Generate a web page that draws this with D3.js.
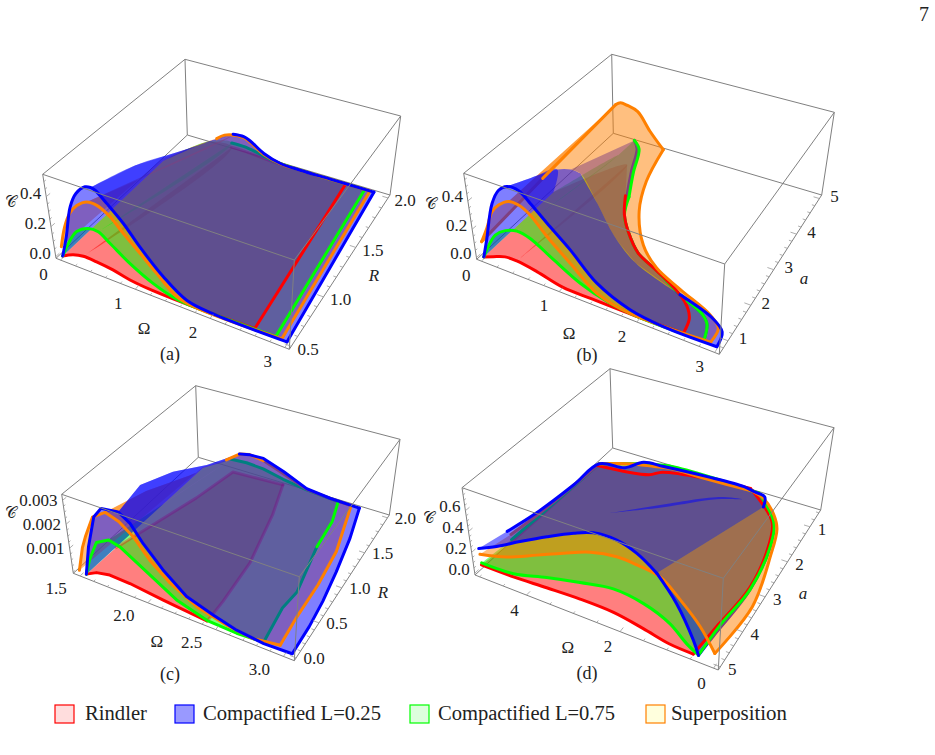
<!DOCTYPE html>
<html><head><meta charset="utf-8">
<script src="https://cdn.jsdelivr.net/npm/d3@7"></script>
<style>
html,body{margin:0;background:#fff}
text{font-family:"Liberation Serif",serif;fill:#222}
</style></head><body><svg id="fig" width="935" height="755"></svg>
<script>
// Series names and legend entries
const seriesNames = ["Rindler","Compactified L=0.25","Compactified L=0.75","Superposition"];

// ---- Panel (a): concurrence over Omega and R ----
const omegaTicksA=[0,1,2,3], yTicksA=[0.5,1,1.5,2], cTicksA=[0,0.2,0.4];
const redFrontA=[[0,0],[.15,.037],[.29,.054],[.465,.05],[.68,.038],[.91,.014],[1.2,.002],[1.8,0],[2.57,.012]];
const redEdgeA=[[2.41,2,0]];
const redRimA=[[1.7,2,0],[1.3,2,.003],[1.05,2,.012],[.85,2,.018],[.66,2,.018]];
const redFoldA=[[.66,2,.018],[.3,2,.005],[0,1.7,0]];
const greenFrontA=[[0,0],[.1,.1],[.243,.209],[.405,.26],[.535,.262],[.676,.213],[.92,.126],[1.22,.05],[1.53,.005],[1.83,0],[2.85,.012]];
const greenEdgeA=[[2.7,2,0]];
const greenRimA=[[1.7,2,0],[1.3,2,.01],[1.05,2,.035],[.85,2,.05],[.66,2,.05]];
const greenFoldA=[[.66,2,.05],[.3,2,.01],[0,1.7,0]];
const orangeFrontA=[[0,.062],[.087,.211],[.18,.317],[.29,.39],[.43,.44],[.555,.44],[.71,.395],[.87,.312],[1.07,.218],[1.27,.128],[1.53,.023],[1.79,0],[2.93,.012]];
const orangeEdgeA=[[2.78,2,0]];
const orangeRimA=[[1.71,2,0],[1.4,2,.005],[1.15,2,.035],[.94,2,.095],[.84,2,.115],[.68,2,.112]];
const orangeFoldA=[[.68,2,.112],[.55,2,.092],[.43,2,.05],[.3,2,.012],[0,1.7,.02]];
const orangeLeftTopA=[[.68,2,.112],[.55,2,.092],[.43,2,.05]];
const blueFrontA=[[0,0],[.09,.146],[.2,.365],[.3,.472],[.43,.54],[.5,.548],[.555,.54],[.69,.476],[.88,.38],[1.07,.263],[1.36,.121],[1.66,.025],[2,.003],[3,.006]];
const blueEdgeA=[[2.84,2,0]];
const blueRimA=[[2.17,2,0],[1.71,2,0],[1.4,2,.007],[1.15,2,.043],[.94,2,.104],[.84,2,.122],[.68,2,.117]];
const blueCrestA=[[.5,1.5,.258],[.44,1.05,.4]];
const blueFoldA=[[.44,1.05,.4],[.5,1.5,.258],[.68,2,.117],[.558,2,.089],[.43,2,.047],[.3,2,.01],[0,1.7,0]];

// ---- Panel (b): concurrence over Omega and a ----
const omegaTicksB=[0,1,2,3], yTicksB=[1,2,3,4,5], cTicksB=[0,0.2,0.4];
const redFrontB=[[0,0],[.13,.029],[.287,.061],[.437,.064],[.69,.043],[1.02,.002],[1.4,0],[2,0],[2.57,.009]];
const redEdgeTopB=[[2.52,1.11,0],[2.43,1.34,0],[2.24,1.6,0],[1.81,1.96,0],[1.46,2.23,0],[1.18,2.64,0],[.97,3.04,0],[.79,3.53,0]];
const redCrestB=[[.48,4.34,0]];
const redFoldB=[[.48,4.34,0],[0,3,0]];
const greenFrontB=[[0,0],[.084,.095],[.194,.194],[.333,.255],[.483,.283],[.645,.265],[.92,.176],[1.25,.079],[1.59,.023],[1.97,0],[2.83,.009]];
const greenEdgeB=[[2.74,1.15,0],[2.62,1.34,0],[2.36,1.52,0],[2.24,1.6,0],[1.81,1.96,0],[1.46,2.23,0],[1.18,2.64,0],[.97,3.04,0],[.84,3.53,0]];
const greenEdgeTopB=[[.63,4.2,0],[.44,4.84,0],[.3,5,.01]];
const greenAccentB=[[2.83,.71,.009],[2.74,1.15,0],[2.62,1.34,0],[2.36,1.52,0]];
const greenCrestB=[[.31,4.43,.024]];
const greenFoldB=[[.31,4.43,.024],[0,3,0]];
const orangeFrontB=[[0,.108],[.096,.225],[.19,.358],[.286,.425],[.417,.477],[.54,.477],[.675,.434],[.86,.325],[1.135,.194],[1.46,.053],[1.88,.003],[2.92,.02]];
const orangeEdgeTopB=[[2.885,1.16,0],[2.71,1.39,0],[2.21,1.72,0],[1.78,2.03,0],[1.45,2.46,0],[1.09,3.26,0],[.87,4.07,0],[.73,5,.005]];
const orangeRimTopB=[[.53,5,.115],[.35,5,.237],[.2,5,.262],[.1,5,.267],[.03,5,.243]];
const orangeFoldB=[[.03,5,.243]];
const orangeLeftTopB=[[.03,5,.243],[.014,2.68,.17]];
const orangeLeftB=[[.014,2.68,.17],[0,.71,.108]];
const blueFrontB=[[0,0],[.07,.134],[.205,.419],[.31,.534],[.42,.583],[.56,.582],[.69,.519],[.876,.42],[1.147,.289],[1.465,.124],[1.884,.028],[2.31,0],[3,.005]];
const blueEdgeTopB=[[2.95,1.11,0],[2.75,1.34,0],[2.24,1.6,0]];
const blueSeamB=[[1.53,1.96,0],[1.16,2.19,.069],[.67,2.86,.07],[.16,3.53,.055]];
const blueCrestB=[[.127,3.31,.125],[.143,2.86,.222],[.283,1.74,.413]];
const blueFoldB=[[.283,1.74,.413],[.143,2.86,.222],[0,3,0]];
const blueUnderEdgeB=[[1.81,1.96,0],[1.46,2.23,0],[1.18,2.64,0],[.97,3.04,0],[.81,3.53,0],[.6,4.2,0],[.41,4.84,0],[.3,5,.01]];
const blueUnderCrestB=[[.127,3.31,.125]];

// ---- Panel (c): concurrence over Omega and R, high-frequency window ----
const omegaTicksC=[1.5,2,2.5,3], yTicksC=[0,.5,1,1.5,2], cTicksC=[.001,.002,.003];
const redFrontC=[[1.53,0],[1.61,.00024],[1.71,.00036],[1.857,.00033],[2.1,.00018],[2.42,.00002]];
const redEdgeC=[[2.44,0,.00017],[2.42,.31,0],[2.395,.9,0],[2.29,1.58,0],[2.19,2,0]];
const redRimC=[[1.78,1.97,0],[1.71,1.48,0],[1.54,.48,0]];
const greenFrontC=[[1.53,0],[1.57,.0007],[1.637,.00155],[1.73,.00185],[1.81,.00173],[1.99,.0011],[2.2,.0004],[2.42,.00005],[2.64,0],[2.84,.00007]];
const greenEdgeC=[[2.8,.5,0],[2.82,.75,0],[2.74,1.37,0]];
const greenEdgeTopC=[[2.72,1.73,0],[2.66,2,0]];
const greenRimC=[[2.39,2,.0001],[2.19,2,.00025],[2.02,2,.00045],[1.88,2,.0005],[1.75,2,.00045]];
const greenFoldC=[[1.75,2,.00045],[1.56,1.9,0]];
const orangeFrontC=[[1.48,.00005],[1.527,.0011],[1.56,.00162],[1.63,.00259],[1.725,.00299],[1.817,.0028],[1.91,.00238],[2.02,.00163],[2.157,.001],[2.35,.00044],[2.57,.00016],[2.76,.00004],[2.96,.0002]];
const orangeEdgeTopC=[[2.925,.46,0],[2.92,.92,0],[2.89,1.39,0],[2.77,2,0]];
const orangeRimC=[[2.59,2,.00003],[2.39,2,.00012],[2.19,2,.0005],[2.02,2,.00082]];
const orangeRimTopC=[[1.9,2,.00091],[1.82,2,.0008],[1.71,2,.00036]];
const orangeCrestC=[[1.6,1.6,.0005],[1.55,1,.0012]];
const orangeFoldC=[[1.55,1,.0012],[1.6,1.6,.0005],[1.71,2,.00036],[1.56,1.9,.00005]];
const blueFrontC=[[1.53,0],[1.574,.00124],[1.64,.00262],[1.7,.0031],[1.82,.0032],[1.897,.00289],[1.98,.00223],[2.11,.00144],[2.275,.0007],[2.47,.00036],[2.64,.00012],[2.84,.00001],[3.05,.00005]];
const blueEdgeTopC=[[3.04,.4,0],[3.02,.75,0],[2.98,1.15,0],[2.92,1.6,0],[2.84,2,0]];
const blueRimTopC=[[2.59,2,.00004],[2.39,2,.00015],[2.19,2,.0006],[2.02,2,.00092],[1.906,2,.0009],[1.82,2,.0008]];
const blueCrestC=[[1.63,1.83,.00043],[1.507,1.52,.0007],[1.507,1,.00139]];
const blueFoldC=[[1.507,1,.00139],[1.507,1.52,.0007],[1.63,1.83,.00043],[1.82,2,.0008],[1.743,2,.0004],[1.56,1.9,0]];

// ---- Panel (d): concurrence over Omega and a, reversed axes ----
const omegaTicksD=[4,2,0], yTicksD=[5,4,3,2,1], cTicksD=[0,.2,.4,.6];
const redFrontD=[[4.99,.075],[4.31,.078],[3.6,.096],[2.89,.11],[2.18,.105],[1.55,.06],[1,.012],[.48,.004]];
const redEdgeTopD=[[.4,4.1,0],[.28,2.95,0],[.46,1.8,0],[.72,1.2,0],[1.56,.7,.06]];
const redRimTopD=[[2.55,.84,.085],[3.54,.98,.068],[3.72,1.2,.085],[5,1.16,0]];
const redCrestD=[[5,3,.02],[5,4,.03]];
const greenFrontD=[[4.98,.096],[4.3,.11],[3.58,.197],[2.87,.269],[2.17,.327],[1.54,.294],[.99,.2],[.63,.075],[.37,.012]];
const greenEdgeTopD=[[.36,4.08,0],[.25,2.99,0],[.42,1.8,0],[.68,1.2,0],[1.4,.6,0]];
const greenRimTopD=[[2.6,.7,.055],[3.6,.7,.04],[4.2,.85,.03],[5,1.1,0]];
const greenCrestD=[[5,3,.03],[5,4,.05]];
const orangeFrontD=[[4.99,.177],[4.41,.25],[3.75,.38],[3.18,.493],[2.62,.595],[2.08,.641],[1.67,.632],[1.2,.596],[.78,.451],[.36,.277],[.03,.084]];
const orangeEdgeTopD=[[0,3.38,0],[.29,2.03,0],[.52,1.34,0],[.78,1.02,0],[1.22,.7,0],[1.56,.6,0]];
const orangeRimTopD=[[2.6,.75,.045],[3.5,.75,.04],[3.9,.75,.01],[4.4,.9,.02],[5,1.1,0]];
const orangeCrestD=[[5,3.1,.055],[5,4,.1]];
const blueFrontD=[[5,.23],[4.6,.319],[4.08,.453],[3.5,.596],[2.94,.722],[2.54,.79],[2.07,.798],[1.67,.739],[1.27,.62]];
const blueLowerFrontD=[[1.27,.62],[.86,.407],[.49,.13],[.37,.01]];
const blueSeamD=[[1.1,.91,0]];
const blueRimTopD=[[1.2,.7,.02],[1.46,.7,.04],[1.72,.7,.06],[2.63,.7,.05],[3.7,.7,.02],[4.2,.7,0],[4.39,1.07,.03],[5,1.1,0],[5,1.94,.025],[5,3.17,.084],[5,4.1,.157]];
const blueUnderEdgeD=[[.35,4.4,0],[.25,3,0],[.42,1.8,0],[.68,1.2,0]];
const blueCreaseD=[[3.9,2.3,0],[3,1.75,.02],[2.1,1.15,.03],[1.6,.95,.03],[2.1,1.08,.03],[3,1.65,.02]];

// ---- Box geometry and label layout of each panel ----
const panels=[
 {name:"(a)",namePos:[170,354],xDom:[-.06,3.06],yDom:[.47,2.03],cDom:[-.011,.549],frontY:.5,
  corners:{LB:[56,258.3],NB:[289.3,349.3],BB:[187.3,135],RB:[390,195],LT:[42.7,174.3],NT:[294.3,260],BT:[185,59.3],RT:[400.7,116]},
  xTicks:omegaTicksA,yTicks:yTicksA,cTicks:cTicksA,xFmt:"d",yFmt:".1f",cFmt:".1f",xMinor:.2,yMinor:.1,cMinor:.05,
  xOff:[-17,14],yOff:[17,3],cOff:[-5,-3.5],xTitle:["Ω",144,328],yTitle:["R",374,275],cTitle:[11,201],curve:d3.curveCatmullRom,
  series:{
   red:{front:redFrontA,edgeTop:redEdgeA,rim:redRimA,fold:redFoldA},
   green:{front:greenFrontA,edgeTop:greenEdgeA,rim:greenRimA,fold:greenFoldA},
   orange:{front:orangeFrontA,edgeTop:orangeEdgeA,rimTop:orangeRimA,fold:orangeFoldA,leftTop:orangeLeftTopA},
   blue:{front:blueFrontA,edgeTop:blueEdgeA,rimTop:blueRimA,crest:blueCrestA,fold:blueFoldA}}},
 {name:"(b)",namePos:[587,355],xDom:[-.06,3.06],yDom:[.62,5.1],cDom:[-.012,.595],frontY:.71,
  corners:{LB:[476.7,259.3],NB:[719.3,354.3],BB:[613.3,133.3],RB:[821.7,195],LT:[463.7,173.3],NT:[724.7,264],BT:[611.7,54.3],RT:[834.3,112.3]},
  xTicks:omegaTicksB,yTicks:yTicksB,cTicks:cTicksB,xFmt:"d",yFmt:"d",cFmt:".1f",xMinor:.2,yMinor:.2,cMinor:.05,
  xOff:[-15,14],yOff:[15,-2],cOff:[-5,-4],xTitle:["Ω",569,333],yTitle:["a",804,278],cTitle:[431,203],curve:d3.curveCatmullRom,
  series:{
   red:{front:redFrontB,edgeTop:redEdgeTopB,crest:redCrestB,fold:redFoldB},
   green:{front:greenFrontB,edge:greenEdgeB,edgeTop:greenEdgeTopB,crest:greenCrestB,fold:greenFoldB,accent:greenAccentB},
   orange:{front:orangeFrontB,edgeTop:orangeEdgeTopB,rimTop:orangeRimTopB,fold:orangeFoldB,leftTop:orangeLeftTopB,left:orangeLeftB},
   blue:{front:blueFrontB,edgeTop:blueEdgeTopB,seam:blueSeamB,crest:blueCrestB,fold:blueFoldB,underEdge:blueUnderEdgeB,underCrest:blueUnderCrestB}}},
 {name:"(c)",namePos:[170,674],xDom:[1.45,3.08],yDom:[-.04,2.04],cDom:[-.00005,.00325],frontY:0,
  corners:{LB:[73.3,573.3],NB:[294.3,660.7],BB:[198.3,457.3],RB:[389.3,515],LT:[61.7,494.3],NT:[299.3,576.7],BT:[195.7,385.7],RT:[400,439.3]},
  xTicks:omegaTicksC,yTicks:yTicksC,cTicks:cTicksC,xFmt:".1f",yFmt:".1f",cFmt:".3f",xMinor:.1,yMinor:.1,cMinor:.00025,
  xOff:[-24,13],yOff:[18,1],cOff:[-5,0],xTitle:["Ω",156.7,641],yTitle:["R",383,592],cTitle:[11,512],curve:d3.curveLinear,
  series:{
   red:{front:redFrontC,peak:0,edge:redEdgeC,rim:redRimC},
   green:{front:greenFrontC,edge:greenEdgeC,edgeTop:greenEdgeTopC,rim:greenRimC,fold:greenFoldC},
   orange:{front:orangeFrontC,edgeTop:orangeEdgeTopC,rim:orangeRimC,rimTop:orangeRimTopC,crest:orangeCrestC,fold:orangeFoldC},
   blue:{front:blueFrontC,edgeTop:blueEdgeTopC,rimTop:blueRimTopC,crest:blueCrestC,fold:blueFoldC}}},
 {name:"(d)",namePos:[587,673],xDom:[5.1,-.1],yDom:[5.09,.52],cDom:[-.017,.82],frontY:5,
  corners:{LB:[475,575],NB:[718.3,670],BB:[612.7,448],RB:[820.7,510],LT:[462,487.7],NT:[723.3,578.3],BT:[610,368.7],RT:[834,427.7]},
  xTicks:omegaTicksD,yTicks:yTicksD,cTicks:cTicksD,xFmt:"d",yFmt:"d",cFmt:".1f",xMinor:.5,yMinor:.2,cMinor:.05,
  xOff:[-12,15],yOff:[12,3],cOff:[-5,-4],xTitle:["Ω",567.7,647],yTitle:["a",803,593],cTitle:[429,517],curve:d3.curveCatmullRom,
  series:{
   red:{front:redFrontD,peak:0,edgeTop:redEdgeTopD,rimTop:redRimTopD,crest:redCrestD,crestLine:true},
   green:{front:greenFrontD,peak:0,edgeTop:greenEdgeTopD,rimTop:greenRimTopD,crest:greenCrestD,crestLine:true},
   orange:{front:orangeFrontD,peak:0,edgeTop:orangeEdgeTopD,rimTop:orangeRimTopD,crest:orangeCrestD,crestLine:true},
   blue:{front:blueFrontD,peak:0,seam:blueSeamD,rimTop:blueRimTopD,lowerFront:blueLowerFrontD,underEdge:blueUnderEdgeD,extra:blueCreaseD}}}
];

const colors={red:"#ff0000",green:"#00ff00",blue:"#0000ff",orange:"#ff8000"};
const svg=d3.select("#fig");
const fillOpacity=.5, strokeW=3, tickFont=17;

// Trilinear map from data coordinates to the drawn box
function makeProjector(p){
  const sx=d3.scaleLinear().domain(p.xDom).range([0,1]);
  const sy=d3.scaleLinear().domain(p.yDom).range([0,1]);
  const sc=d3.scaleLinear().domain(p.cDom).range([0,1]);
  const k=p.corners;
  const mix=(a,b,f)=>[a[0]+(b[0]-a[0])*f,a[1]+(b[1]-a[1])*f];
  return ([x,y,c])=>{
    const t=sx(x),u=sy(y),w=sc(c);
    const low=mix(mix(k.LB,k.NB,t),mix(k.BB,k.RB,t),u);
    const high=mix(mix(k.LT,k.NT,t),mix(k.BT,k.RT,t),u);
    return mix(low,high,w);
  };
}

function drawPanel(p){
  const g=svg.append("g");
  const proj=makeProjector(p);
  const k=p.corners;
  const line=d3.line().curve(p.curve).x(d=>proj(d)[0]).y(d=>proj(d)[1]);
  const lift=f=>f.map(([o,c])=>[o,p.frontY,c]);
  // Chains consecutive point runs into one closed outline
  const outline=runs=>{
    let last=null,path="";
    runs.forEach(r=>{
      if(!r||!r.length)return;
      const pts=last?[last,...r]:r;
      const d=line(pts);
      path+=last?d.replace(/^M/,"L"):d;
      last=r[r.length-1];
    });
    return path+"Z";
  };
  const edgeLine=(a,b)=>g.append("path").attr("d",d3.line()([a,b])).attr("stroke","#808080").attr("stroke-width",1).attr("fill","none");

  // Rear box edges sit behind every sheet
  [["BT","BB"],["BB","LB"],["BB","RB"],["LT","BT"],["BT","RT"]].forEach(([a,b])=>edgeLine(k[a],k[b]));

  const top=[],mid=[];
  const stroke=(pts,col,target,op)=>{
    if(!pts||pts.length<2)return;
    const s=()=>g.append("path").attr("d",line(pts)).attr("fill","none").attr("stroke",col)
      .attr("stroke-width",strokeW).attr("stroke-linejoin","round").attr("stroke-linecap","round")
      .attr("stroke-opacity",op===undefined?1:op);
    if(target==="top")top.push(s);else if(target==="mid")mid.push(s);else s();
  };
  const fill=(d,col)=>g.append("path").attr("d",d).attr("fill",col).attr("fill-opacity",fillOpacity).attr("stroke","none");

  const peakIndex=(s,fr)=>s.peak!==undefined?s.peak:d3.range(fr.length).reduce((b,i)=>fr[i][2]>fr[b][2]?i:b,0);

  // The part of a sheet lying below the orange surface
  const drawUnder=(s,col)=>{
    const fr=lift(s.front);
    const lf=s.lowerFront?lift(s.lowerFront):null;
    const seam=s.seam;
    const start=lf?lf[lf.length-1]:s.edgeTop[s.edgeTop.length-1];
    const seamBack=[...seam].reverse();
    const d=outline(lf?[lf,s.underEdge,seam.slice(-1),seamBack.slice(1),[fr[fr.length-1]]]
                      :[[start],s.underEdge,s.underCrest,seamBack,[start]]);
    fill(d,col);
    stroke([start,...s.underEdge],col,"now");
  };

  const drawSheet=(key)=>{
    const s=p.series[key],col=colors[key];
    const fr=lift(s.front),pk=peakIndex(s,fr);
    if(s.fold&&pk>0) fill(outline([fr.slice(0,pk+1),s.fold]),col);
    fill(outline([fr.slice(pk),s.edge,s.edgeTop,s.seam,s.rim,s.rimTop,s.crest]),col);
    if(s.extra) fill(outline([s.extra]),col);
    // Outline runs each start where the previous one stopped; hidden red runs stay faint
    const layer=key==="blue"?"now":"mid";
    const hidden=key==="red"?.35:1;
    let last=fr[fr.length-1];
    [[s.edge,layer,hidden],[s.edgeTop,"top",1]].forEach(([r,t,o])=>{if(r&&r.length){stroke([last,...r],col,t,o);last=r[r.length-1];}});
    if(s.seam) last=s.seam[s.seam.length-1];
    [[s.rim,layer,hidden],[s.rimTop,"top",1]].forEach(([r,t,o])=>{if(r&&r.length){stroke([last,...r],col,t,o);last=r[r.length-1];}});
    if(s.crestLine) stroke([last,...s.crest],col,layer,hidden);
    stroke(s.left,col,"mid");
    stroke(s.leftTop,col,"top");
    stroke(s.accent,col,"top");
  };

  drawSheet("red");
  drawSheet("green");
  if(p.series.blue.underEdge) drawUnder(p.series.blue,colors.blue);
  drawSheet("orange");
  mid.forEach(f=>f());
  drawSheet("blue");
  top.forEach(f=>f());
  ["red","green","orange","blue"].forEach(key=>{
    const s=p.series[key];
    stroke(lift(s.front),colors[key],"now");
    if(s.lowerFront) stroke(lift(s.lowerFront),colors[key],"now");
  });

  // Front box edges lie over the sheets
  [["LT","NT"],["NT","RT"],["NT","NB"],["LB","NB"],["NB","RB"],["LT","LB"],["RT","RB"]].forEach(([a,b])=>edgeLine(k[a],k[b]));

  // Axis ticks and labels
  const [xMin,xMax]=d3.extent(p.xDom),[yMin,yMax]=d3.extent(p.yDom),[cMin,cMax]=d3.extent(p.cDom);
  const yEdgeX=p.xDom[1],xEdgeY=p.yDom[0];
  const tick=(a,b)=>g.append("path").attr("d",d3.line()([proj(a),proj(b)])).attr("stroke","#999").attr("stroke-width",.8);
  const minorList=(lo,hi,step)=>d3.range(Math.ceil(lo/step-1e-9),Math.floor(hi/step+1e-9)+1).map(i=>i*step);
  const dy=(p.yDom[1]-p.yDom[0]),dx=(p.xDom[1]-p.xDom[0]);
  const label=(pt,off,txt,anchor)=>g.append("text").attr("x",pt[0]+off[0]).attr("y",pt[1]+off[1])
     .attr("text-anchor",anchor).attr("dominant-baseline","central").attr("font-size",tickFont).text(txt);
  const isMajor=(v,list)=>list.some(m=>Math.abs(m-v)<1e-9);
  minorList(xMin,xMax,p.xMinor).forEach(v=>{const f=isMajor(v,p.xTicks)?.028:.014;tick([v,xEdgeY,p.cDom[0]],[v,xEdgeY+dy*f,p.cDom[0]]);});
  minorList(yMin,yMax,p.yMinor).forEach(v=>{const f=isMajor(v,p.yTicks)?.028:.014;tick([yEdgeX,v,p.cDom[0]],[yEdgeX-dx*f,v,p.cDom[0]]);});
  minorList(cMin,cMax,p.cMinor).forEach(v=>{const f=isMajor(v,p.cTicks)?.028:.014;tick([p.xDom[0],xEdgeY,v],[p.xDom[0],xEdgeY+dy*f,v]);});
  const fx=d3.format(p.xFmt),fy=d3.format(p.yFmt),fc=d3.format(p.cFmt);
  p.xTicks.forEach(v=>label(proj([v,xEdgeY,p.cDom[0]]),p.xOff,fx(v),"middle"));
  p.yTicks.forEach(v=>label(proj([yEdgeX,v,p.cDom[0]]),p.yOff,fy(v),"middle"));
  p.cTicks.forEach(v=>label(proj([p.xDom[0],xEdgeY,v]),p.cOff,fc(v),"end"));
  g.append("text").attr("x",p.xTitle[1]).attr("y",p.xTitle[2]).attr("text-anchor","middle").attr("dominant-baseline","central").attr("font-size",tickFont).text(p.xTitle[0]);
  g.append("text").attr("x",p.yTitle[1]).attr("y",p.yTitle[2]).attr("text-anchor","middle").attr("dominant-baseline","central").attr("font-size",tickFont).attr("font-style","italic").text(p.yTitle[0]);
  g.append("text").attr("x",p.cTitle[0]).attr("y",p.cTitle[1]).attr("text-anchor","middle").attr("dominant-baseline","central").attr("font-size",16).attr("font-family","'DejaVu Sans'").text("𝒞");
  g.append("text").attr("x",p.namePos[0]).attr("y",p.namePos[1]).attr("text-anchor","middle").attr("dominant-baseline","central").attr("font-size",18).text(p.name);
}
panels.forEach(drawPanel);

// Legend row
const legendFill=["#ffdddd","#9999ff","#ddffdd","#ffffdd"];
const legendStroke=[colors.red,colors.blue,colors.green,colors.orange];
const legendSwatchX=[55,175,410,646];
const legendTextX=[85,203,438,671];
const legendTextW=[62,178,177,116];
seriesNames.forEach((n,i)=>{
  svg.append("rect").attr("x",legendSwatchX[i]).attr("y",705).attr("width",19).attr("height",18)
     .attr("fill",legendFill[i]).attr("stroke",legendStroke[i]).attr("stroke-width",1.2);
  svg.append("text").attr("x",legendTextX[i]).attr("y",720).attr("font-size",20)
     .attr("textLength",legendTextW[i]).attr("lengthAdjust","spacingAndGlyphs").text(n);
});

// Page number
svg.append("text").attr("x",924).attr("y",21).attr("text-anchor","middle").attr("font-size",20).text("7");
</script></body></html>
